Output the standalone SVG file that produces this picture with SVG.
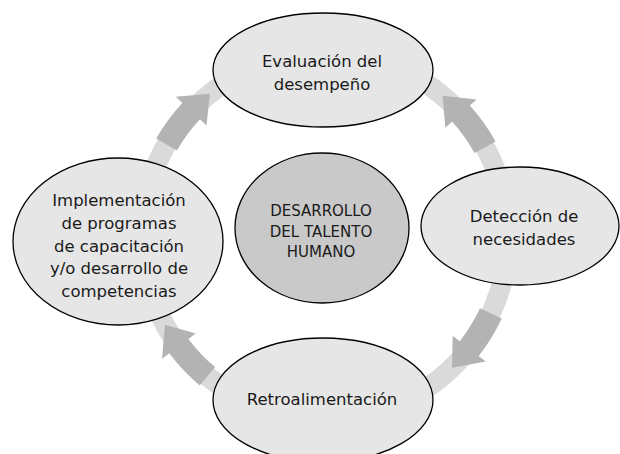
<svg xmlns="http://www.w3.org/2000/svg" xmlns:xlink="http://www.w3.org/1999/xlink" width="620" height="454" viewBox="0 0 620 454">
  <style>
    .node { fill: #e6e6e6; stroke: #000; stroke-width: 1.3; }
    .core { fill: #c9c9c9; stroke: #000; stroke-width: 1.3; }
    .lbl { font-family: "DejaVu Sans", "Liberation Sans", sans-serif; font-size: 16.5px; fill: #1a1a1a; text-anchor: middle; }
    .clbl { font-family: "DejaVu Sans", "Liberation Sans", sans-serif; font-size: 15px; fill: #1a1a1a; text-anchor: middle; }
    .ring { fill: none; stroke: #dadada; stroke-width: 20; }
    .arrow { fill: #b3b3b3; }
  </style>
  <defs>
    <path id="arrow" class="arrow" d="M195,0 A195,195 0 0 1 190.0,43.9 L198.8,45.9 L170.8,65.6 L157.8,36.4 L166.6,38.5 A171,171 0 0 0 171,0 Z"/>
  </defs>
  <rect width="620" height="454" fill="#fff"/>
  <g id="connectors">
    <circle class="ring" cx="325" cy="236" r="183"/>
    <use xlink:href="#arrow" href="#arrow" transform="translate(325,236) rotate(210)"/>
    <use xlink:href="#arrow" href="#arrow" transform="translate(325,236) rotate(331) scale(1,-1)"/>
    <use xlink:href="#arrow" href="#arrow" transform="translate(325,236) rotate(25)"/>
    <use xlink:href="#arrow" href="#arrow" transform="translate(325,236) rotate(130)"/>
  </g>
  <g id="evaluacion">
    <ellipse class="node" cx="323" cy="70" rx="110" ry="57"/>
    <text class="lbl" x="322" y="67">Evaluación del</text>
    <text class="lbl" x="322" y="90">desempeño</text>
  </g>
  <g id="deteccion">
    <ellipse class="node" cx="520" cy="226" rx="99" ry="59"/>
    <text class="lbl" x="524" y="222">Detección de</text>
    <text class="lbl" x="524" y="245">necesidades</text>
  </g>
  <g id="retroalimentacion">
    <ellipse class="node" cx="323" cy="400" rx="110" ry="62"/>
    <text class="lbl" x="322" y="405">Retroalimentación</text>
  </g>
  <g id="implementacion">
    <ellipse class="node" cx="118" cy="241.5" rx="105" ry="83.5"/>
    <text class="lbl" x="119" y="206">Implementación</text>
    <text class="lbl" x="119" y="228.75">de programas</text>
    <text class="lbl" x="119" y="251.5">de capacitación</text>
    <text class="lbl" x="119" y="274.25">y/o desarrollo de</text>
    <text class="lbl" x="119" y="297">competencias</text>
  </g>
  <g id="desarrollo">
    <ellipse class="core" cx="322" cy="228" rx="87" ry="75"/>
    <text class="clbl" x="321" y="216">DESARROLLO</text>
    <text class="clbl" x="321" y="237">DEL TALENTO</text>
    <text class="clbl" x="321" y="257">HUMANO</text>
  </g>
</svg>
